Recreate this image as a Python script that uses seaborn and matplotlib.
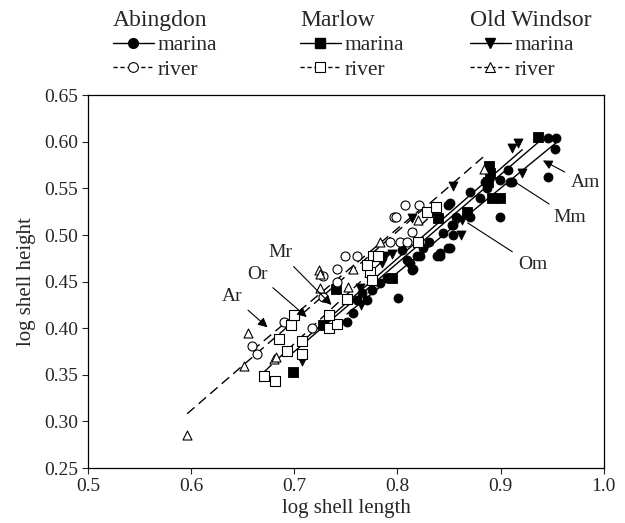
import matplotlib
matplotlib.use("Agg")
import matplotlib.pyplot as plt
from matplotlib.lines import Line2D
import seaborn as sns
import pandas as pd
import numpy as np

# values: log shell length (x) and log shell height (y)
ab_marina_x = [.946, .954, .953, .946, .907, .899, .909, .885, .870, .880, .887, .899, .851, .870, .854,
               .844, .854, .851, .841, .831, .825, .819, .849, .853, .857, .838, .822, .812, .814, .809,
               .815, .804, .800, .775, .783, .793, .770, .790, .751, .757, .766, .761, .841, .849, .911]
ab_marina_y = [.604, .604, .592, .562, .570, .559, .557, .557, .546, .540, .550, .519, .534, .519, .511,
               .502, .500, .486, .478, .492, .486, .478, .532, .511, .519, .478, .478, .470, .462, .473,
               .464, .484, .432, .441, .449, .454, .430, .454, .407, .416, .438, .430, .481, .486, .557]

ma_marina_x = [.936, .889, .890, .888, .892, .899, .839, .867, .795, .740, .728, .699]
ma_marina_y = [.605, .574, .566, .557, .540, .540, .518, .525, .454, .442, .404, .353]

ow_marina_x = [.911, .917, .921, .854, .863, .862, .814, .788, .795, .785, .764, .765, .707]
ow_marina_y = [.593, .599, .567, .553, .516, .500, .518, .478, .480, .470, .443, .425, .365]

ab_river_x = [.807, .821, .797, .799, .814, .793, .802, .809, .749, .761, .741, .728, .741, .728,
              .717, .690, .659, .664]
ab_river_y = [.532, .532, .519, .519, .503, .492, .492, .492, .478, .478, .464, .456, .450, .433,
              .400, .407, .381, .372]

ma_river_x = [.829, .837, .820, .776, .781, .773, .775, .770, .751, .734, .741, .734, .697, .700,
              .685, .693, .707, .707, .671, .681]
ma_river_y = [.525, .530, .492, .478, .478, .460, .452, .468, .431, .400, .405, .414, .403, .414,
              .389, .376, .386, .372, .349, .343]

ow_river_x = [.596, .651, .655, .680, .682, .820, .783, .757, .724, .725, .752, .725, .884]
ow_river_y = [.285, .359, .395, .367, .369, .516, .492, .464, .462, .443, .444, .458, .571]

sites = ["Abingdon", "Marlow", "Old Windsor"]
markers = {"Abingdon": "o", "Marlow": "s", "Old Windsor": "v"}
river_markers = {"Abingdon": "o", "Marlow": "s", "Old Windsor": "^"}

groups = [
    ("Abingdon", "marina", ab_marina_x, ab_marina_y),
    ("Marlow", "marina", ma_marina_x, ma_marina_y),
    ("Old Windsor", "marina", ow_marina_x, ow_marina_y),
    ("Abingdon", "river", ab_river_x, ab_river_y),
    ("Marlow", "river", ma_river_x, ma_river_y),
    ("Old Windsor", "river", ow_river_x, ow_river_y),
]
df = pd.concat([pd.DataFrame({"x": gx, "y": gy, "site": s, "habitat": h})
                for s, h, gx, gy in groups], ignore_index=True)

sns.set_style("ticks")
plt.rcParams["font.family"] = ["Liberation Serif", "DejaVu Serif"]
plt.rcParams["font.size"] = 14

fig = plt.figure(figsize=(6.25, 5.23), dpi=100)
ax = fig.add_axes([0.141, 0.105, 0.825, 0.713])

dash = (0, (7, 4))
for s, h, gx, gy in groups:
    sub = df[(df.site == s) & (df.habitat == h)]
    ls = "-" if h == "marina" else dash
    sns.regplot(data=sub, x="x", y="y", scatter=False, ci=None, truncate=True,
                color="black", line_kws=dict(lw=1, ls=ls), ax=ax)

for s, h, gx, gy in groups:
    sub = df[(df.site == s) & (df.habitat == h)]
    if h == "marina":
        sns.scatterplot(data=sub, x="x", y="y", marker=markers[s], s=42,
                        color="black", edgecolor="black", linewidth=0.6, ax=ax, zorder=3)
    else:
        sns.scatterplot(data=sub, x="x", y="y", marker=river_markers[s], s=42,
                        facecolor="white", edgecolor="black", linewidth=0.8, ax=ax, zorder=3)

ax.set_xlim(0.5, 1.0)
ax.set_ylim(0.25, 0.65)
ax.set_xticks(np.arange(0.5, 1.01, 0.1))
ax.set_yticks(np.arange(0.25, 0.651, 0.05))
ax.xaxis.set_major_formatter(matplotlib.ticker.FormatStrFormatter("%.1f"))
ax.yaxis.set_major_formatter(matplotlib.ticker.FormatStrFormatter("%.2f"))
ax.tick_params(direction="out", length=4, width=0.8, labelsize=14, pad=3)
for sp in ax.spines.values():
    sp.set_linewidth(0.9)
    sp.set_color("black")
ax.set_xlabel("log shell length", fontsize=15, labelpad=3)
ax.set_ylabel("log shell height", fontsize=15, labelpad=6)

# line labels
arrow = dict(arrowstyle="-|>", color="black", lw=0.8, mutation_scale=14, shrinkA=2, shrinkB=0)
plain = dict(arrowstyle="-", color="black", lw=0.8, shrinkA=2, shrinkB=0)
ax.annotate("Am", xy=(0.941, 0.580), xytext=(0.982, 0.556), ha="center", va="center",
            fontsize=14, arrowprops=arrow)
ax.annotate("Mm", xy=(0.911, 0.559), xytext=(0.967, 0.519), ha="center", va="center",
            fontsize=14, arrowprops=plain)
ax.annotate("Om", xy=(0.868, 0.513), xytext=(0.931, 0.468), ha="center", va="center",
            fontsize=14, arrowprops=plain)
ax.annotate("Ar", xy=(0.674, 0.401), xytext=(0.640, 0.434), ha="center", va="center",
            fontsize=14, arrowprops=arrow)
ax.annotate("Or", xy=(0.712, 0.412), xytext=(0.664, 0.458), ha="center", va="center",
            fontsize=14, arrowprops=arrow)
ax.annotate("Mr", xy=(0.736, 0.425), xytext=(0.686, 0.481), ha="center", va="center",
            fontsize=14, arrowprops=arrow)

# legend: one block per site
legend_x = [113 / 625, 300 / 625, 470 / 625]
for s, lx in zip(sites, legend_x):
    handles = [
        Line2D([], [], color="black", lw=1, ls="-", marker=markers[s], ms=7,
               mfc="black", mec="black"),
        Line2D([], [], color="black", lw=1, ls=(0, (3, 2)), marker=river_markers[s], ms=7,
               mfc="white", mec="black", mew=0.8),
    ]
    leg = fig.legend(handles, ["marina", "river"], title=s, loc="upper left",
                     bbox_to_anchor=(lx, 1 - 10 / 523), frameon=False, fontsize=15.5,
                     title_fontsize=17, borderpad=0, borderaxespad=0, handlelength=1.9,
                     handletextpad=0.15, labelspacing=0.2, alignment="left")

fig.savefig("out.png", dpi=100)
